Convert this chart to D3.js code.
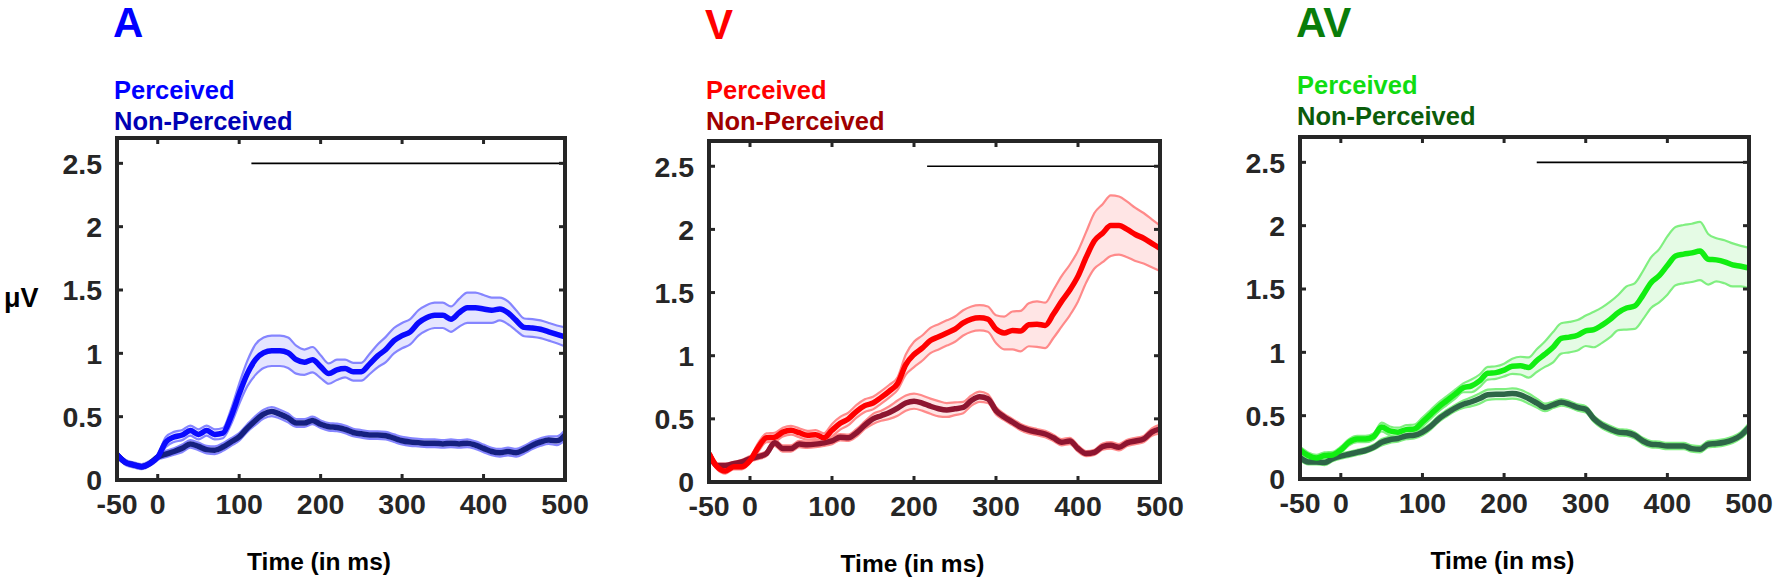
<!DOCTYPE html>
<meta charset="utf-8">
<style>
    body { margin: 0; background: #fff; }
    text { font-family: "Liberation Sans", Arial, Helvetica, sans-serif; font-weight: bold; }
</style>
<svg width="1776" height="583"></svg>
<script src="https://d3js.org/d3.v7.min.js"></script>
<script>

    // time points (ms), shared by all panels
    var times = d3.range(-50, 501, 10);
    var xTicks = [-50, 0, 100, 200, 300, 400, 500];
    var yTicks = [0, 0.5, 1, 1.5, 2, 2.5];

    // A - auditory
    var aPer = [0.20, 0.14, 0.12, 0.105, 0.13, 0.18, 0.30, 0.34, 0.355, 0.39, 0.36, 0.39, 0.36, 0.37, 0.50, 0.68, 0.84, 0.95, 1.005, 1.02,
        1.02, 1.005, 0.95, 0.93, 0.95, 0.895, 0.84, 0.87, 0.88, 0.855, 0.855, 0.915, 0.98, 1.03, 1.10, 1.14, 1.17, 1.24, 1.28, 1.30,
        1.30, 1.27, 1.32, 1.36, 1.36, 1.35, 1.34, 1.35, 1.32, 1.26, 1.205, 1.20, 1.19, 1.17, 1.15, 1.13];
    var aPerSem = [0.02, 0.02, 0.02, 0.02, 0.02, 0.02, 0.04, 0.04, 0.04, 0.04, 0.04, 0.04, 0.04, 0.04, 0.06, 0.08, 0.10, 0.12, 0.12, 0.12,
        0.12, 0.12, 0.11, 0.10, 0.10, 0.09, 0.08, 0.08, 0.07, 0.07, 0.07, 0.08, 0.09, 0.10, 0.10, 0.10, 0.10, 0.10, 0.10, 0.10,
        0.10, 0.10, 0.11, 0.12, 0.12, 0.11, 0.10, 0.09, 0.09, 0.08, 0.07, 0.07, 0.07, 0.07, 0.07, 0.075];
    var aNon = [0.20, 0.14, 0.12, 0.105, 0.13, 0.18, 0.205, 0.225, 0.25, 0.285, 0.265, 0.24, 0.235, 0.26, 0.30, 0.34, 0.41, 0.47, 0.52, 0.54,
        0.52, 0.49, 0.45, 0.45, 0.47, 0.44, 0.42, 0.415, 0.40, 0.375, 0.365, 0.355, 0.355, 0.35, 0.33, 0.31, 0.30, 0.295, 0.29, 0.29,
        0.285, 0.29, 0.285, 0.29, 0.275, 0.25, 0.225, 0.215, 0.225, 0.215, 0.24, 0.275, 0.30, 0.315, 0.31, 0.355];
    var aNonSem = [0.015, 0.015, 0.015, 0.015, 0.015, 0.02, 0.025, 0.025, 0.03, 0.03, 0.03, 0.03, 0.03, 0.03, 0.03, 0.03, 0.03, 0.035, 0.035, 0.035,
        0.035, 0.035, 0.03, 0.03, 0.03, 0.03, 0.03, 0.03, 0.03, 0.03, 0.03, 0.03, 0.03, 0.03, 0.03, 0.03, 0.03, 0.03, 0.03, 0.03,
        0.03, 0.03, 0.03, 0.03, 0.03, 0.03, 0.03, 0.03, 0.03, 0.03, 0.03, 0.03, 0.03, 0.03, 0.035, 0.04];

    // V - visual
    var vPer = [0.225, 0.12, 0.087, 0.12, 0.12, 0.17, 0.275, 0.35, 0.355, 0.395, 0.41, 0.39, 0.37, 0.375, 0.35, 0.41, 0.465, 0.50, 0.56, 0.605,
        0.625, 0.67, 0.72, 0.78, 0.93, 1.01, 1.06, 1.12, 1.15, 1.18, 1.21, 1.26, 1.29, 1.30, 1.29, 1.21, 1.18, 1.20, 1.195, 1.245,
        1.25, 1.24, 1.33, 1.43, 1.52, 1.63, 1.78, 1.91, 1.97, 2.03, 2.03, 2.00, 1.96, 1.93, 1.89, 1.85];
    var vPerSem = [0.02, 0.02, 0.02, 0.02, 0.02, 0.02, 0.035, 0.035, 0.035, 0.035, 0.035, 0.035, 0.035, 0.035, 0.035, 0.05, 0.05, 0.05, 0.05, 0.05,
        0.05, 0.05, 0.05, 0.05, 0.08, 0.10, 0.10, 0.10, 0.10, 0.10, 0.10, 0.10, 0.10, 0.10, 0.10, 0.11, 0.13, 0.15, 0.16, 0.17,
        0.18, 0.18, 0.19, 0.20, 0.20, 0.20, 0.20, 0.22, 0.23, 0.24, 0.23, 0.22, 0.21, 0.20, 0.19, 0.18];
    var vNon = [0.225, 0.13, 0.13, 0.145, 0.16, 0.185, 0.20, 0.225, 0.31, 0.265, 0.265, 0.30, 0.295, 0.30, 0.31, 0.325, 0.355, 0.35, 0.39, 0.45,
        0.50, 0.525, 0.55, 0.585, 0.625, 0.64, 0.625, 0.60, 0.58, 0.57, 0.58, 0.59, 0.645, 0.675, 0.66, 0.565, 0.515, 0.475, 0.435, 0.41,
        0.395, 0.38, 0.35, 0.315, 0.325, 0.265, 0.225, 0.235, 0.28, 0.29, 0.275, 0.31, 0.325, 0.34, 0.395, 0.42];
    var vNonSem = [0.015, 0.015, 0.015, 0.015, 0.015, 0.02, 0.02, 0.02, 0.025, 0.025, 0.025, 0.025, 0.025, 0.025, 0.025, 0.025, 0.025, 0.025, 0.03, 0.03,
        0.04, 0.04, 0.05, 0.06, 0.06, 0.06, 0.06, 0.06, 0.06, 0.055, 0.05, 0.045, 0.04, 0.04, 0.035, 0.03, 0.025, 0.025, 0.025, 0.025,
        0.025, 0.025, 0.025, 0.025, 0.025, 0.025, 0.02, 0.02, 0.025, 0.025, 0.025, 0.025, 0.025, 0.025, 0.03, 0.035];

    // AV - audiovisual
    var avPer = [0.23, 0.185, 0.165, 0.185, 0.19, 0.23, 0.29, 0.315, 0.315, 0.335, 0.41, 0.38, 0.37, 0.39, 0.395, 0.45, 0.51, 0.57, 0.62, 0.67,
        0.72, 0.735, 0.775, 0.835, 0.84, 0.86, 0.89, 0.895, 0.88, 0.935, 0.985, 1.04, 1.11, 1.12, 1.135, 1.17, 1.18, 1.215, 1.26, 1.315,
        1.35, 1.365, 1.45, 1.55, 1.605, 1.685, 1.76, 1.775, 1.785, 1.80, 1.735, 1.73, 1.715, 1.69, 1.68, 1.665];
    var avPerSem = [0.025, 0.025, 0.025, 0.025, 0.025, 0.025, 0.025, 0.025, 0.025, 0.025, 0.035, 0.035, 0.035, 0.035, 0.035, 0.035, 0.035, 0.035, 0.035, 0.035,
        0.035, 0.05, 0.05, 0.05, 0.05, 0.05, 0.06, 0.07, 0.08, 0.09, 0.10, 0.12, 0.12, 0.12, 0.12, 0.12, 0.14, 0.14, 0.14, 0.14,
        0.17, 0.18, 0.19, 0.20, 0.21, 0.23, 0.23, 0.23, 0.23, 0.23, 0.20, 0.17, 0.17, 0.17, 0.16, 0.16];
    var avNon = [0.17, 0.135, 0.135, 0.13, 0.16, 0.18, 0.195, 0.21, 0.225, 0.25, 0.29, 0.31, 0.32, 0.34, 0.345, 0.37, 0.415, 0.475, 0.52, 0.56,
        0.59, 0.61, 0.635, 0.665, 0.67, 0.67, 0.675, 0.665, 0.635, 0.60, 0.565, 0.585, 0.605, 0.59, 0.565, 0.55, 0.475, 0.425, 0.395, 0.37,
        0.365, 0.345, 0.30, 0.275, 0.27, 0.26, 0.26, 0.26, 0.24, 0.235, 0.275, 0.28, 0.29, 0.31, 0.345, 0.41];
    var avNonSem = [0.02, 0.02, 0.02, 0.02, 0.02, 0.02, 0.02, 0.02, 0.02, 0.02, 0.025, 0.025, 0.025, 0.025, 0.025, 0.025, 0.025, 0.025, 0.025, 0.025,
        0.03, 0.035, 0.04, 0.04, 0.04, 0.04, 0.04, 0.04, 0.04, 0.035, 0.03, 0.025, 0.025, 0.025, 0.025, 0.025, 0.025, 0.025, 0.025, 0.025,
        0.025, 0.025, 0.025, 0.025, 0.025, 0.025, 0.025, 0.025, 0.025, 0.025, 0.025, 0.025, 0.025, 0.025, 0.025, 0.03];

    // significance bars (start time, ends at 500, drawn at 2.5 uV)
    var sigStart = [115, 216, 240];

    var panels = [
        { title: "A", titleColor: "#0000ff", per: aPer, perSem: aPerSem, non: aNon, nonSem: aNonSem, sig: sigStart[0],
          perColor: "#0a0aff", nonColor: "#152080", perText: "#0000ff", nonText: "#0000b4",
          fill: "#dcdcff", edge: "#8585ff",
          left: 117, right: 565, top: 138, bottom: 480, titleY: 37, legY: 99 },
        { title: "V", titleColor: "#ff0000", per: vPer, perSem: vPerSem, non: vNon, nonSem: vNonSem, sig: sigStart[1],
          perColor: "#ff0000", nonColor: "#8e1530", perText: "#ff0000", nonText: "#a00000",
          fill: "#ffdcdc", edge: "#ff8a8a",
          left: 709, right: 1160, top: 141, bottom: 482, titleY: 39, legY: 99 },
        { title: "AV", titleColor: "#0a7d0a", per: avPer, perSem: avPerSem, non: avNon, nonSem: avNonSem, sig: sigStart[2],
          perColor: "#11ee11", nonColor: "#2d6647", perText: "#11dd11", nonText: "#0b5c0b",
          fill: "#dcfadc", edge: "#80ef80",
          left: 1300, right: 1749, top: 137, bottom: 479, titleY: 37, legY: 94 }
    ];

    var svg = d3.select("svg");
    var axisColor = "#262626";

    panels.forEach(function (p, pi) {
        var g = svg.append("g");

        var x = d3.scaleLinear().domain([-50, 500]).range([p.left, p.right]);
        var y = d3.scaleLinear().domain([0, 2.7]).range([p.bottom, p.top]);

        //title and legend
        g.append("text").attr("x", p.left - 4).attr("y", p.titleY)
            .attr("font-size", 42).attr("fill", p.titleColor).text(p.title);
        g.append("text").attr("x", p.left - 3).attr("y", p.legY)
            .attr("font-size", 25.5).attr("fill", p.perText).text("Perceived");
        g.append("text").attr("x", p.left - 3).attr("y", p.legY + 31)
            .attr("font-size", 25.5).attr("fill", p.nonText).text("Non-Perceived");

        var series = [
            { m: p.non, s: p.nonSem, color: p.nonColor },
            { m: p.per, s: p.perSem, color: p.perColor }
        ];

        var clip = "clip" + pi;
        g.append("clipPath").attr("id", clip).append("rect")
            .attr("x", p.left).attr("y", p.top).attr("width", p.right - p.left).attr("height", p.bottom - p.top);
        var plot = g.append("g").attr("clip-path", "url(#" + clip + ")");

        var curve = d3.curveMonotoneX;
        var area = d3.area().curve(curve)
            .x(function (d) { return x(d.t); })
            .y0(function (d) { return y(d.m - d.s); })
            .y1(function (d) { return y(d.m + d.s); });
        var line = function (f) {
            return d3.line().curve(curve).x(function (d) { return x(d.t); }).y(function (d) { return y(f(d)); });
        };

        var rows = series.map(function (se) {
            return times.map(function (t, i) { return { t: t, m: se.m[i], s: se.s[i] }; });
        });

        // bands
        rows.forEach(function (r) {
            plot.append("path").datum(r).attr("d", area)
                .attr("fill", p.fill).attr("fill-opacity", 0.75);
            plot.append("path").datum(r).attr("d", line(function (d) { return d.m + d.s; }))
                .attr("fill", "none").attr("stroke", p.edge).attr("stroke-width", 2.2);
            plot.append("path").datum(r).attr("d", line(function (d) { return d.m - d.s; }))
                .attr("fill", "none").attr("stroke", p.edge).attr("stroke-width", 2.2);
        });
        // means
        rows.forEach(function (r, i) {
            plot.append("path").datum(r).attr("d", line(function (d) { return d.m; }))
                .attr("fill", "none").attr("stroke", series[i].color).attr("stroke-width", 5.5)
                .attr("stroke-linejoin", "round");
        });

        // significance line
        g.append("line")
            .attr("x1", x(p.sig)).attr("x2", x(500))
            .attr("y1", y(2.5)).attr("y2", y(2.5))
            .attr("stroke", "#000").attr("stroke-width", 1.6);

        // ticks (inside, all four sides)
        xTicks.slice(1, -1).forEach(function (t) {
            g.append("line").attr("x1", x(t)).attr("x2", x(t)).attr("y1", p.bottom).attr("y2", p.bottom - 6)
                .attr("stroke", axisColor).attr("stroke-width", 3);
            g.append("line").attr("x1", x(t)).attr("x2", x(t)).attr("y1", p.top).attr("y2", p.top + 6)
                .attr("stroke", axisColor).attr("stroke-width", 3);
        });
        yTicks.slice(1).forEach(function (v) {
            g.append("line").attr("x1", p.left).attr("x2", p.left + 6).attr("y1", y(v)).attr("y2", y(v))
                .attr("stroke", axisColor).attr("stroke-width", 3);
            g.append("line").attr("x1", p.right).attr("x2", p.right - 6).attr("y1", y(v)).attr("y2", y(v))
                .attr("stroke", axisColor).attr("stroke-width", 3);
        });

        // box
        g.append("rect").attr("x", p.left).attr("y", p.top)
            .attr("width", p.right - p.left).attr("height", p.bottom - p.top)
            .attr("fill", "none").attr("stroke", axisColor).attr("stroke-width", 4);

        // tick labels
        g.selectAll(".xl").data(xTicks).enter().append("text")
            .attr("x", function (d) { return x(d); }).attr("y", p.bottom + 34)
            .attr("text-anchor", "middle").attr("font-size", 28.5).attr("fill", axisColor)
            .text(function (d) { return d; });
        g.selectAll(".yl").data(yTicks).enter().append("text")
            .attr("x", p.left - 15).attr("y", function (d) { return y(d); }).attr("dy", "0.36em")
            .attr("text-anchor", "end").attr("font-size", 28.5).attr("fill", axisColor)
            .text(function (d) { return d; });

        // x axis title
        g.append("text").attr("x", (p.left + p.right) / 2 - 22).attr("y", p.bottom + 90)
            .attr("text-anchor", "middle").attr("font-size", 24.5).attr("fill", "#000")
            .text("Time (in ms)");

        if (pi === 0) {
            g.append("text").attr("x", 4).attr("y", 307)
                .attr("font-size", 27).attr("fill", "#000").text("μV");
        }
    });

</script>
